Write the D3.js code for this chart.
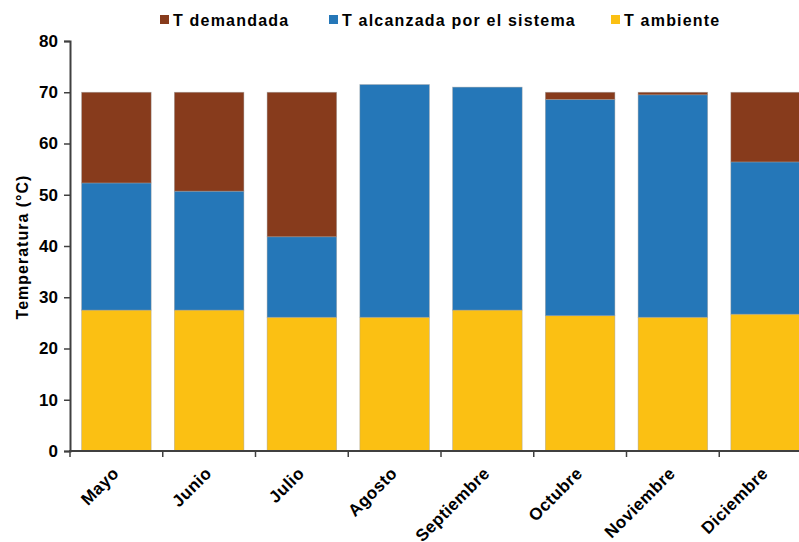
<!DOCTYPE html>
<html><head><meta charset="utf-8">
<script src="https://cdn.jsdelivr.net/npm/d3@7/dist/d3.min.js"></script>
<style>body{margin:0;background:#fff}svg{display:block;font-family:"Liberation Sans",Arial,sans-serif;font-weight:bold}</style>
</head><body><svg id="c" width="799" height="542"></svg>
<script>
const months = ["Mayo","Junio","Julio","Agosto","Septiembre","Octubre","Noviembre","Diciembre"];
const tAmbiente = [27.5, 27.5, 26.1, 26.1, 27.5, 26.4, 26.1, 26.7];
const tAlcanzada = [52.3, 50.7, 41.8, 71.5, 71.0, 68.6, 69.5, 56.4]; // cumulative top
const tDemandada = [70, 70, 70, 71.5, 71.0, 70, 70, 70]; // cumulative top
const seriesNames = ["T demandada","T alcanzada por el sistema","T ambiente"];
const colors = {"T demandada":"#873B1C","T alcanzada por el sistema":"#2577B8","T ambiente":"#FBC013"};
const yTicks = [0,10,20,30,40,50,60,70,80];

const svg = d3.select("#c");
const x = d3.scaleBand().domain(months).range([70, 812]).paddingInner(0.25).paddingOuter(0.125);
const y = d3.scaleLinear().domain([0,80]).range([451, 41]);

const data = months.map((m,i)=>({m, segs:[
  {s:"T ambiente", y0:0, y1:tAmbiente[i]},
  {s:"T alcanzada por el sistema", y0:tAmbiente[i], y1:tAlcanzada[i]},
  {s:"T demandada", y0:tAlcanzada[i], y1:tDemandada[i]}
]}));

const g = svg.append("g");
data.forEach(d=>{
  g.selectAll(null).data(d.segs.filter(s=>s.y1>s.y0)).enter().append("rect")
    .attr("x", x(d.m)).attr("width", x.bandwidth())
    .attr("y", s=>y(s.y1)).attr("height", s=>y(s.y0)-y(s.y1))
    .attr("fill", s=>colors[s.s])
    .attr("stroke","#a0a0a0").attr("stroke-opacity",0.6).attr("stroke-width",0.7);
});

// y axis
const ya = svg.append("g").attr("transform","translate(70,0)")
  .call(d3.axisLeft(y).tickValues(yTicks).tickSize(6).tickPadding(6));
ya.select(".domain").attr("stroke","#404040").attr("stroke-width",2);
ya.selectAll(".tick line").attr("stroke","#404040").attr("stroke-width",1.5);
ya.selectAll(".tick text").attr("font-size",17).attr("font-weight","bold").attr("fill","#000")
  .attr("font-family","Liberation Sans, Arial, sans-serif");

// x axis
const bandTicks = months.map((m,i)=>x.range()[0] + i*x.step());
const xa = svg.append("g").attr("transform","translate(0,451)");
xa.append("line").attr("x1",69).attr("x2",812).attr("stroke","#404040").attr("stroke-width",2);
xa.selectAll(".tk").data(bandTicks).enter().append("line")
  .attr("x1",d=>d).attr("x2",d=>d).attr("y1",0).attr("y2",6)
  .attr("stroke","#404040").attr("stroke-width",1.5);
xa.selectAll(".lb").data(months).enter().append("text")
  .attr("transform",d=>`translate(${x(d)+x.bandwidth()/2-5},${15}) rotate(-45)`)
  .attr("text-anchor","end").attr("font-size",17).attr("letter-spacing",0.4)
  .attr("dy","0.7em").text(d=>d);

// y title
svg.append("text").attr("transform","translate(28,247) rotate(-90)")
  .attr("text-anchor","middle").attr("font-size",16).attr("letter-spacing",1).text("Temperatura (°C)");

// legend
const legX = [160, 329, 611];
seriesNames.forEach((s,i)=>{
  svg.append("rect").attr("x",legX[i]).attr("y",15).attr("width",9).attr("height",9).attr("fill",colors[s]);
  svg.append("text").attr("x",legX[i]+13).attr("y",26).attr("font-size",16).attr("letter-spacing",1.2).text(s);
});
</script></body></html>
